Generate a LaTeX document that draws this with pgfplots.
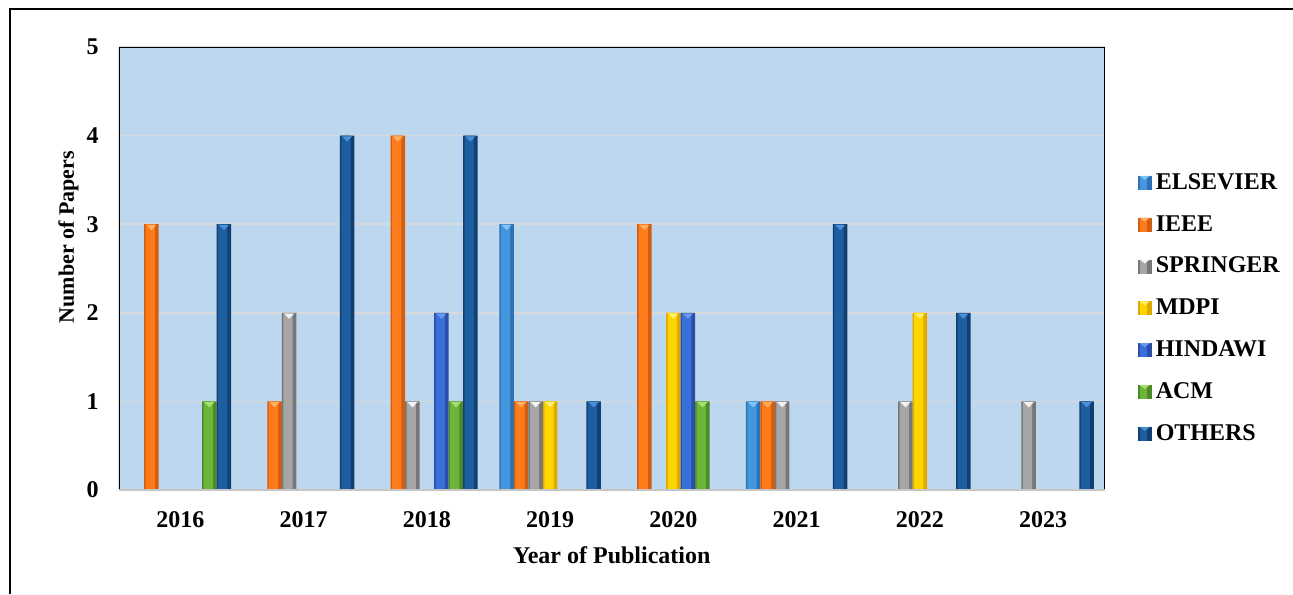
\documentclass[border=0pt]{standalone}
\usepackage{fontspec}
\setmainfont{Liberation Serif}
\usepackage{pgfplots}
\pgfplotsset{compat=1.18}
\definecolor{bgblue}{HTML}{BDD7EE}
\definecolor{gridc}{HTML}{D9D9D9}
\definecolor{elsL}{HTML}{4496DE}\definecolor{elsD}{HTML}{2C72B4}\definecolor{elsT}{HTML}{7CC4F4}
\definecolor{ieeL}{HTML}{FF7A1A}\definecolor{ieeD}{HTML}{D25E12}\definecolor{ieeT}{HTML}{FFB060}
\definecolor{sprL}{HTML}{A6A6A6}\definecolor{sprD}{HTML}{777777}\definecolor{sprT}{HTML}{F2F2F2}
\definecolor{mdpL}{HTML}{FFD500}\definecolor{mdpD}{HTML}{E0A800}\definecolor{mdpT}{HTML}{FFF070}
\definecolor{hinL}{HTML}{3A6ED8}\definecolor{hinD}{HTML}{2A4FA8}\definecolor{hinT}{HTML}{6A9AEE}
\definecolor{acmL}{HTML}{6CB53A}\definecolor{acmD}{HTML}{4C8A28}\definecolor{acmT}{HTML}{A6E070}
\definecolor{othL}{HTML}{1C5EA0}\definecolor{othD}{HTML}{123F70}\definecolor{othT}{HTML}{4A90D8}
% #1 dark, #2 light, #3 top, #4 shift (pt), #5 overlay shift (pt), #6 coords
\newcommand{\series}[6]{%
\addplot[ybar, bar width=7.25pt, bar shift=#4pt, fill=#1, draw=none,
  legend image code/.code={\fill[#1] (0pt,-3.5pt) rectangle (7pt,3.5pt);
    \fill[#2] (1pt,-3.5pt) rectangle (4.8pt,3.5pt);
    \fill[#3] (1pt,3.5pt) -- (6pt,3.5pt) -- (3.5pt,1.5pt) -- cycle;}]
  coordinates {#6};
\addplot[ybar, forget plot, bar width=4.6pt, bar shift=#5pt, fill=#2, draw=none,
  nodes near coords={\tikz\fill[#3] (0pt,0pt) -- (5pt,0pt) -- (2.5pt,-2.6pt) -- cycle;},
  every node near coord/.style={anchor=north, inner sep=0pt, xshift=#4pt, yshift=-0.2pt}]
  coordinates {#6};
}
\begin{document}
\begin{tikzpicture}
\path[use as bounding box] (0,0) rectangle (646.5pt,297pt);
\draw[line width=1pt] (5pt,0) -- (5pt,292.5pt) -- (646.5pt,292.5pt);
\begin{axis}[
  at={(59.4pt,52pt)}, anchor=south west,
  scale only axis, width=493pt, height=221.5pt,
  xmin=-0.5, xmax=7.5, ymin=0, ymax=5,
  xtick={0,1,2,3,4,5,6,7},
  xticklabels={2016,2017,2018,2019,2020,2021,2022,2023},
  ytick={0,1,2,3,4,5},
  major tick length=0pt,
  axis background/.style={fill=bgblue},
  axis line style={draw=none},
  ymajorgrids, grid style={gridc, line width=0.75pt},
  /pgf/number format/assume math mode=true,
  tick label style={font=\bfseries\fontsize{12}{14}\selectfont},
  xticklabel style={anchor=base, yshift=-18.5pt},
  yticklabel style={xshift=-6.5pt},
  xlabel={Year of Publication},
  ylabel={Number of Papers},
  xlabel style={at={(axis description cs:0.5,-0.1648)}, anchor=base, font=\bfseries\fontsize{12}{14}\selectfont},
  ylabel style={at={(axis description cs:-0.0456,0.571)}, anchor=base, font=\bfseries\fontsize{11}{13}\selectfont},
  legend style={at={(axis description cs:1.033,0.41)}, anchor=west, draw=none, fill=none,
    font=\bfseries\fontsize{12}{14}\selectfont, row sep=7.5pt, inner sep=0pt},
  legend cell align=left,
]
\series{elsD}{elsL}{elsT}{-21.75}{-22.35}{(3,3) (5,1)}
\series{ieeD}{ieeL}{ieeT}{-14.5}{-15.1}{(0,3) (1,1) (2,4) (3,1) (4,3) (5,1)}
\series{sprD}{sprL}{sprT}{-7.25}{-7.85}{(1,2) (2,1) (3,1) (5,1) (6,1) (7,1)}
\series{mdpD}{mdpL}{mdpT}{0}{-0.6}{(3,1) (4,2) (6,2)}
\series{hinD}{hinL}{hinT}{7.25}{6.65}{(2,2) (4,2)}
\series{acmD}{acmL}{acmT}{14.5}{13.9}{(0,1) (2,1) (4,1)}
\series{othD}{othL}{othT}{21.75}{21.15}{(0,3) (1,4) (2,4) (3,1) (5,3) (6,2) (7,1)}
\legend{ELSEVIER,IEEE,SPRINGER,MDPI,HINDAWI,ACM,OTHERS}
\draw[line width=1pt, black] (rel axis cs:0,0) -- (rel axis cs:0,1) -- (rel axis cs:1,1) -- (rel axis cs:1,0);
\draw[line width=1pt, gray!45] (rel axis cs:0,0) -- (rel axis cs:1,0);
\end{axis}
\end{tikzpicture}
\end{document}
